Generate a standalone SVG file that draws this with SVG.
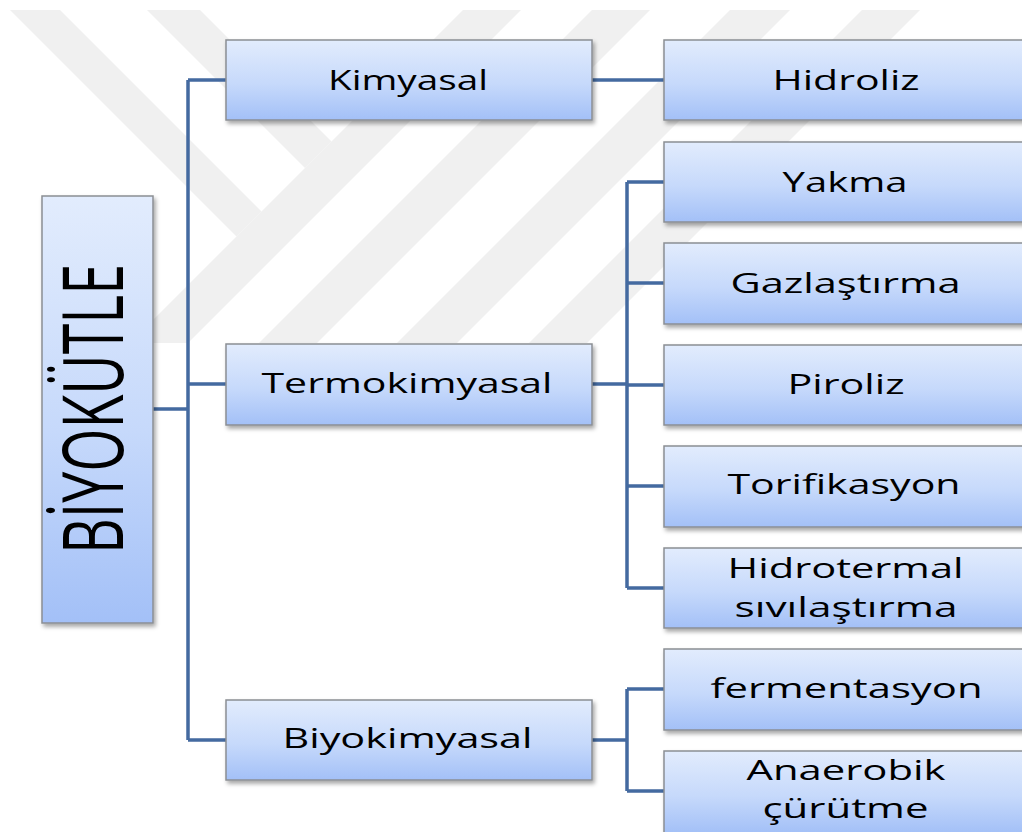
<svg xmlns="http://www.w3.org/2000/svg" width="1022" height="832" viewBox="0 0 1022 832">
<style>
.wm{fill:#f0f0f0}
.box{fill:url(#g);stroke:#8b8e94;stroke-width:1.5;filter:url(#sh)}
.t{font-family:"Open Sans","Liberation Sans",sans-serif;font-size:28px;fill:#000;text-anchor:middle}
.big{font-family:"Open Sans","Liberation Sans",sans-serif;font-size:84px;fill:#000;text-anchor:middle}
.c{fill:none;stroke:#446aa0;stroke-width:3.5;stroke-linejoin:miter}
</style>
<defs>
<linearGradient id="g" x1="0" y1="0" x2="0" y2="1">
<stop offset="0" stop-color="#e2ecfd"/>
<stop offset="0.55" stop-color="#c6d9fb"/>
<stop offset="1" stop-color="#a3c0f7"/>
</linearGradient>
<filter id="sh" x="-10%" y="-10%" width="130%" height="140%">
<feDropShadow dx="2" dy="3" stdDeviation="2" flood-color="#000" flood-opacity="0.35"/>
</filter>
</defs>
<rect width="1022" height="832" fill="#fff"/>
<g id="watermark">
<polygon class="wm" points="10,10 60,10 261.5,211.5 236.5,236.5"/>
<polygon class="wm" points="147,10 200,10 331.5,141.5 305,168"/>
<polygon class="wm" points="463,10 521,10 188,343 130,343"/>
<polygon class="wm" points="592,10 650,10 317,343 259,343"/>
<polygon class="wm" points="730,10 790,10 457,343 397,343"/>
<polygon class="wm" points="862,10 920,10 587,343 529,343"/>
</g>
<g id="connectors">
<path class="c" d="M153,409 H188 M188,80 V740 M188,80 H226 M188,384 H226 M188,740 H226"/>
<path class="c" d="M592,80 H664"/>
<path class="c" d="M592,384 H627 M627,182 V588 M627,182 H664 M627,283 H664 M627,385 H664 M627,486 H664 M627,588 H664"/>
<path class="c" d="M592,740 H627 M627,689 V791 M627,689 H664 M627,791 H664"/>
</g>
<g id="n-biyokutle">
<rect class="box" x="42" y="196" width="111" height="427"/>
<text class="big" transform="translate(123,409) rotate(-90)" x="0" y="0" textLength="290" lengthAdjust="spacingAndGlyphs">BİYOKÜTLE</text>
</g>
<g id="n-kimyasal">
<rect class="box" x="226" y="40" width="366" height="80"/>
<text class="t" x="408" y="90" textLength="160" lengthAdjust="spacingAndGlyphs">Kimyasal</text>
</g>
<g id="n-termokimyasal">
<rect class="box" x="226" y="344" width="366" height="81"/>
<text class="t" x="407" y="393" textLength="291" lengthAdjust="spacingAndGlyphs">Termokimyasal</text>
</g>
<g id="n-biyokimyasal">
<rect class="box" x="226" y="700" width="366" height="80"/>
<text class="t" x="407.5" y="748" textLength="250" lengthAdjust="spacingAndGlyphs">Biyokimyasal</text>
</g>
<g id="n-hidroliz">
<rect class="box" x="664" y="40" width="362" height="80"/>
<text class="t" x="846" y="90" textLength="147" lengthAdjust="spacingAndGlyphs">Hidroliz</text>
</g>
<g id="n-yakma">
<rect class="box" x="664" y="142" width="362" height="80"/>
<text class="t" x="845" y="192" textLength="125" lengthAdjust="spacingAndGlyphs">Yakma</text>
</g>
<g id="n-gazlastirma">
<rect class="box" x="664" y="243" width="362" height="81"/>
<text class="t" x="845.5" y="293" textLength="230" lengthAdjust="spacingAndGlyphs">Gazlaştırma</text>
</g>
<g id="n-piroliz">
<rect class="box" x="664" y="345" width="362" height="80"/>
<text class="t" x="846" y="394" textLength="117" lengthAdjust="spacingAndGlyphs">Piroliz</text>
</g>
<g id="n-torifikasyon">
<rect class="box" x="664" y="446" width="362" height="81"/>
<text class="t" x="844" y="494" textLength="233" lengthAdjust="spacingAndGlyphs">Torifikasyon</text>
</g>
<g id="n-hidrotermal">
<rect class="box" x="664" y="548" width="362" height="80"/>
<text class="t" x="845.5" y="578" textLength="236" lengthAdjust="spacingAndGlyphs">Hidrotermal</text>
<text class="t" x="846" y="617" textLength="223" lengthAdjust="spacingAndGlyphs">sıvılaştırma</text>
</g>
<g id="n-fermentasyon">
<rect class="box" x="664" y="649" width="362" height="81"/>
<text class="t" x="846.5" y="698" textLength="272" lengthAdjust="spacingAndGlyphs">fermentasyon</text>
</g>
<g id="n-anaerobik">
<rect class="box" x="664" y="751" width="362" height="82"/>
<text class="t" x="846" y="780" textLength="199" lengthAdjust="spacingAndGlyphs">Anaerobik</text>
<text class="t" x="845.5" y="818" textLength="166" lengthAdjust="spacingAndGlyphs">çürütme</text>
</g>
</svg>
